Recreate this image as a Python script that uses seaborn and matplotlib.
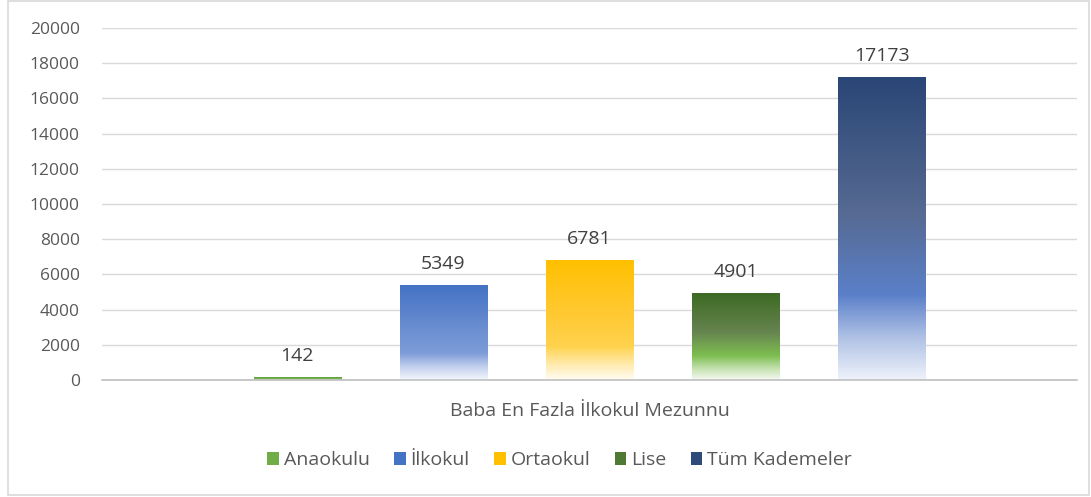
import numpy as np
import pandas as pd
import matplotlib.pyplot as plt
import seaborn as sns
from matplotlib.colors import LinearSegmentedColormap
from matplotlib.patches import Patch, Rectangle

grup = "Baba En Fazla İlkokul Mezunnu"
kademeler = ["Anaokulu", "İlkokul", "Ortaokul", "Lise", "Tüm Kademeler"]
sayilar = [142, 5349, 6781, 4901, 17173]

# renk gecisleri (ustten alta)
gecisler = {
    "Anaokulu": ["#5E9A3A", "#70AD47", "#86C35F", "#C4E1B0", "#F6FAF2"],
    "İlkokul": ["#4472C4", "#6A8ED0", "#7D9CD8", "#C2D0EE", "#F3F6FC"],
    "Ortaokul": ["#FFC000", "#FFC933", "#FFD24D", "#FFE9A8", "#FFFCF3"],
    "Lise": ["#3D6A24", "#66844F", "#7DBE50", "#C0DFAA", "#F6FAF2"],
    "Tüm Kademeler": ["#2A4676", "#566A92", "#5B80C9", "#AFC1E5", "#EEF2FA"],
}
duraklar = [0.0, 0.45, 0.72, 0.86, 1.0]
ana_renk = {"Anaokulu": "#70AD47", "İlkokul": "#4472C4", "Ortaokul": "#FFC000",
            "Lise": "#4E7A33", "Tüm Kademeler": "#2F4B7C"}

df = pd.DataFrame({"grup": grup, "kademe": kademeler, "sayi": sayilar})

sns.set_theme(style="white")
plt.rcParams["font.family"] = ["Open Sans", "DejaVu Sans"]
yazi = "#595959"

fig = plt.figure(figsize=(10.91, 4.97), dpi=100)
ax = fig.add_axes([0.0935, 0.2354, 0.8937, 0.7083])

sns.barplot(data=df, x="grup", y="sayi", hue="kademe", hue_order=kademeler,
            palette=ana_renk, width=0.749, gap=0.404, legend=False, ax=ax)

for kont, ad in zip(ax.containers, kademeler):
    cmap = LinearSegmentedColormap.from_list(ad, list(zip(duraklar, gecisler[ad])))
    grad = np.linspace(0, 1, 256).reshape(-1, 1)
    for bar in kont:
        x0, w, h = bar.get_x(), bar.get_width(), bar.get_height()
        bar.set_facecolor("none")
        bar.set_edgecolor("none")
        ax.imshow(grad, cmap=cmap, extent=[x0, x0 + w, 0, h], aspect="auto",
                  origin="upper", zorder=2)
    ax.bar_label(kont, fmt="%d", padding=9, fontsize=14, color="#404040")

ax.set_xlim(-0.5, 0.5)
ax.set_ylim(0, 20000)
ax.set_yticks(range(0, 20001, 2000))
ax.yaxis.grid(True, color="#D9D9D9", linewidth=1)
ax.set_axisbelow(True)
for s in ["top", "right", "left"]:
    ax.spines[s].set_visible(False)
ax.spines["bottom"].set_color("#BFBFBF")
ax.spines["bottom"].set_linewidth(1.2)
ax.tick_params(axis="y", length=0, pad=16, labelsize=12.5, labelcolor=yazi)
ax.tick_params(axis="x", length=0, pad=16, labelsize=14, labelcolor=yazi)
ax.set_xlabel("")
ax.set_ylabel("")

tutamak = [Patch(facecolor=ana_renk[k], edgecolor="none", label=k) for k in kademeler]
fig.legend(handles=tutamak, loc="center", bbox_to_anchor=(0.513, 0.074), ncol=5,
           frameon=False, fontsize=14, labelcolor=yazi, handlelength=0.6,
           handleheight=0.6, handletextpad=0.25, columnspacing=1.25)

fig.patches.append(Rectangle((0.0073, 0.004), 0.991, 0.994, transform=fig.transFigure,
                             fill=False, edgecolor="#D9D9D9", linewidth=1.2))

fig.savefig("out.png", dpi=100)
